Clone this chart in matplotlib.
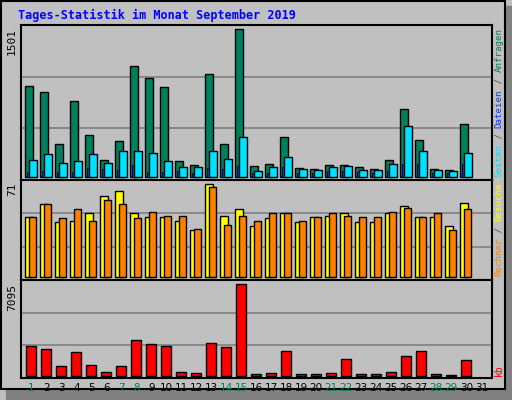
import matplotlib
matplotlib.use("Agg")
import matplotlib.pyplot as plt
from matplotlib.patches import Rectangle
import numpy as np

days = list(range(1, 32))
weekend_days = [1, 7, 8, 14, 15, 21, 22, 28, 29]
hits = [921, 860, 330, 768, 422, 167, 360, 1124, 1002, 910, 157, 116, 1043, 330, 1501, 106,
        126, 401, 86, 75, 116, 116, 96, 75, 167, 686, 371, 75, 65, 534, 0]
files = [167, 228, 137, 157, 228, 137, 259, 259, 238, 157, 96, 96, 259, 177, 401, 55,
         96, 198, 75, 65, 96, 106, 65, 65, 126, 513, 259, 65, 55, 238, 0]
pages = [45, 60, 45, 45, 90, 75, 70, 120, 45, 45, 60, 40, 90, 80, 110, 35,
         40, 95, 40, 40, 60, 60, 45, 40, 60, 130, 130, 40, 35, 130, 0]
visits = [46, 56, 42, 43, 49, 62, 66, 49, 46, 46, 43, 36, 71, 47, 52, 39,
          45, 49, 42, 46, 47, 49, 42, 42, 49, 54, 46, 46, 39, 57, 0]
sites = [46, 56, 45, 52, 43, 59, 56, 45, 50, 47, 47, 37, 69, 40, 47, 43,
         49, 49, 43, 46, 49, 47, 46, 46, 50, 53, 46, 49, 36, 52, 0]
kbytes = [2279, 2046, 803, 1813, 880, 337, 803, 2745, 2434, 2279, 337, 259, 2512, 2201, 7095, 181,
          259, 1890, 181, 181, 259, 1346, 181, 181, 337, 1580, 1890, 181, 60, 1269, 0]
max_hits, max_visits, max_kb = 1501, 71, 7095

W, H = 512, 400
fig = plt.figure(figsize=(W/100, H/100), dpi=100)
fig.patch.set_facecolor("#C0C0C0")
mono = "DejaVu Sans Mono"

def px_axes(x0, y0, x1, y1):
    return fig.add_axes([x0/W, 1-y1/H, (x1-x0)/W, (y1-y0)/H])

bg = fig.add_axes([0, 0, 1, 1]); bg.set_axis_off()
bg.set_xlim(0, W); bg.set_ylim(H, 0)
bg.add_patch(Rectangle((505, 6), 7, 394, color="#808080"))
bg.add_patch(Rectangle((6, 389), 506, 11, color="#808080"))
bg.add_patch(Rectangle((1, 1), 504, 388, fill=False, ec="black", lw=1.5))

x = np.array(days, dtype=float)
xl = (1 - 4.3/15, 1 + 466.7/15)

def lws(vals, w=1.0):
    return [w if v > 0 else 0 for v in vals]

def setup(ax, top, b_px, t_px, h_px):
    ax.set_facecolor("#C0C0C0")
    ax.set_xlim(*xl)
    unit = top / (h_px - b_px - t_px)
    ax.set_ylim(-b_px*unit, top + t_px*unit)
    ax.set_xticks([]); ax.set_yticks([])
    for s in ax.spines.values():
        s.set_linewidth(1.5); s.set_color("black")
    for f in (1/3, 2/3):
        ax.plot([0, 1], [f, f], transform=ax.transAxes, color="#808080", lw=1.2, zorder=0)

ax1 = px_axes(20.7, 25, 491.7, 180)
setup(ax1, max_hits, 3.3, 4.3, 155)
ax1.bar(x, hits, width=0.51, align="edge", color="#00805C", edgecolor="black", lw=lws(hits), zorder=2)
ax1.bar(x + 0.15, pages, width=0.14, align="edge", color="#0040FF", edgecolor="black", lw=lws(pages, 0.6), zorder=3)
ax1.bar(x + 0.29, files, width=0.50, align="edge", color="#00E0FF", edgecolor="black", lw=lws(files), zorder=3)

ax2 = px_axes(20.7, 180, 491.7, 280)
setup(ax2, max_visits, 3.3, 4.3, 100)
ax2.bar(x + 0.02, visits, width=0.5, align="edge", color="#FFFF00", edgecolor="black", lw=lws(visits), zorder=2)
ax2.bar(x + 0.29, sites, width=0.47, align="edge", color="#FF8000", edgecolor="black", lw=lws(sites), zorder=3)

ax3 = px_axes(20.7, 280, 491.7, 378)
setup(ax3, max_kb, 2.0, 4.0, 98)
ax3.bar(x + 0.09, kbytes, width=0.66, align="edge", color="#FF0000", edgecolor="black", lw=lws(kbytes), zorder=2)

fig.text(18/W, 1-15/H, "Tages-Statistik im Monat September 2019", color="#0000FF",
         fontsize=8.5, fontweight="bold", family=mono, va="center", ha="left")

for val, ytop in ((max_hits, 28), (max_visits, 183), (max_kb, 284)):
    fig.text(12/W, 1-ytop/H, str(val), rotation=90, fontsize=8, family=mono,
             va="top", ha="center")

def vstack(parts, ybottom, fs=6.6):
    y = ybottom
    for txt, col in parts:
        t = fig.text(499/W, 1-y/H, txt, rotation=90, color=col, fontsize=fs, family=mono,
                     va="bottom", ha="center")
        fig.canvas.draw()
        y -= t.get_window_extent().height
vstack([("Rechner", "#FF8000"), (" / ", "#505050"), ("Besuche", "#FFFF00"), (" ", "#505050"),
        ("Seiten", "#00E0FF"), (" / ", "#505050"), ("Dateien", "#0040FF"), (" / ", "#505050"),
        ("Anfragen", "#00805C")], 276)
fig.text(499/W, 1-376/H, "kb", rotation=90, color="#FF0000", fontsize=7, family=mono,
         va="bottom", ha="center")

for d in days:
    col = "#00805C" if d in weekend_days else "black"
    ax3.text(d + 0.42, -0.05, str(d), transform=ax3.get_xaxis_transform(), ha="center",
             va="top", fontsize=7.5, color=col)

fig.savefig("out.png", dpi=100, facecolor=fig.get_facecolor())
